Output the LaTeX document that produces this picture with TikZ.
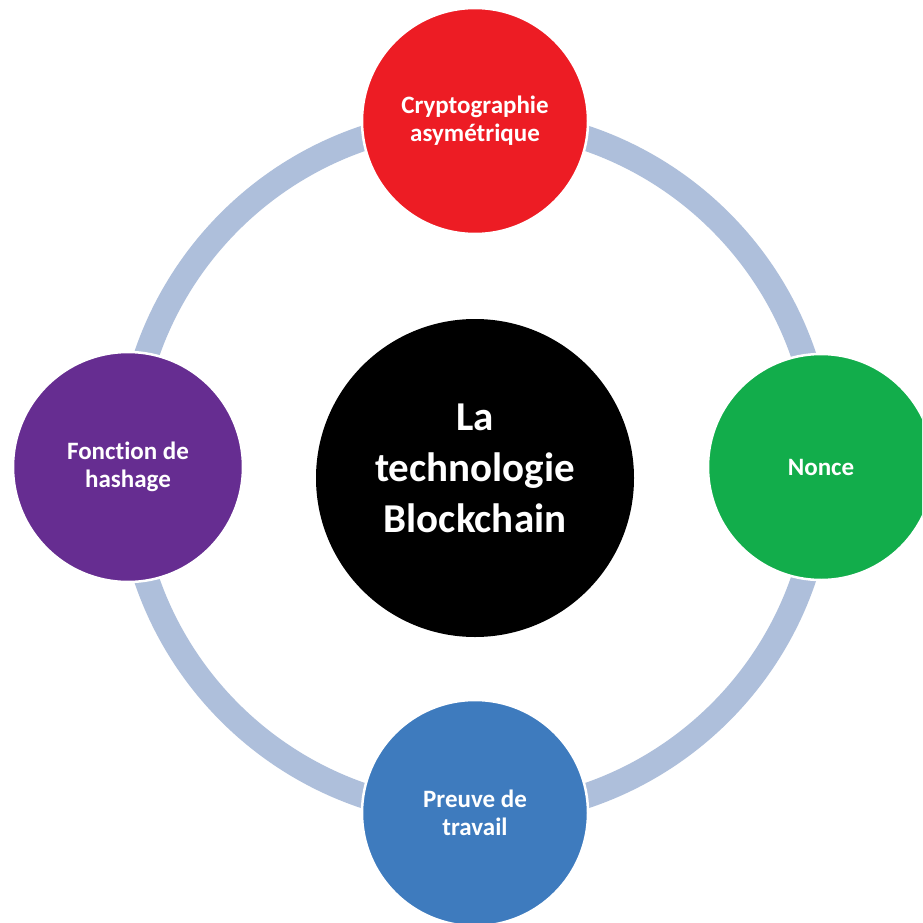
\documentclass[tikz,border=0pt]{standalone}
\usepackage{fontspec}
\setmainfont{Carlito}[Ligatures=NoCommon]
\definecolor{ringc}{HTML}{AEBFDB}
\definecolor{redc}{HTML}{ED1C24}
\definecolor{greenc}{HTML}{12AD4B}
\definecolor{purplec}{HTML}{662D91}
\definecolor{bluec}{HTML}{3E7BBE}
\begin{document}
\begin{tikzpicture}[x=1pt,y=-1pt,
  sat/.style={circle,inner sep=0pt,minimum size=226pt,draw=white,line width=2.5pt,
    text=white,align=center,font=\fontsize{25}{28}\selectfont\bfseries},
  hub/.style={circle,inner sep=0pt,minimum size=318pt,fill=black},
  hubtext/.style={text=white,align=center,font=\fontsize{41}{51}\selectfont\bfseries},
  ring/.style={draw=ringc,line width=25pt}]
\useasboundingbox (0,0) rectangle (922,923);
\clip (0,0) rectangle (922,923);
\fill[white] (0,0) rectangle (922,923);
\coordinate (ctr) at (475,467);
\draw[ring] (ctr) circle[radius=347];
\node[hub] (hub) at (475,478) {};
\node[hubtext] (hubtxt) at (475,468) {La\\technologie\\Blockchain};
\node[sat,fill=redc] (crypto) at (475,121) {Cryptographie\\asymétrique};
\node[sat,fill=greenc] (nonce) at (821,467) {Nonce};
\node[sat,fill=bluec] (preuve) at (475,813) {Preuve de\\travail};
\node[sat,fill=purplec,minimum size=230pt] (hash) at (128,467) {Fonction de\\hashage};
\end{tikzpicture}
\end{document}
